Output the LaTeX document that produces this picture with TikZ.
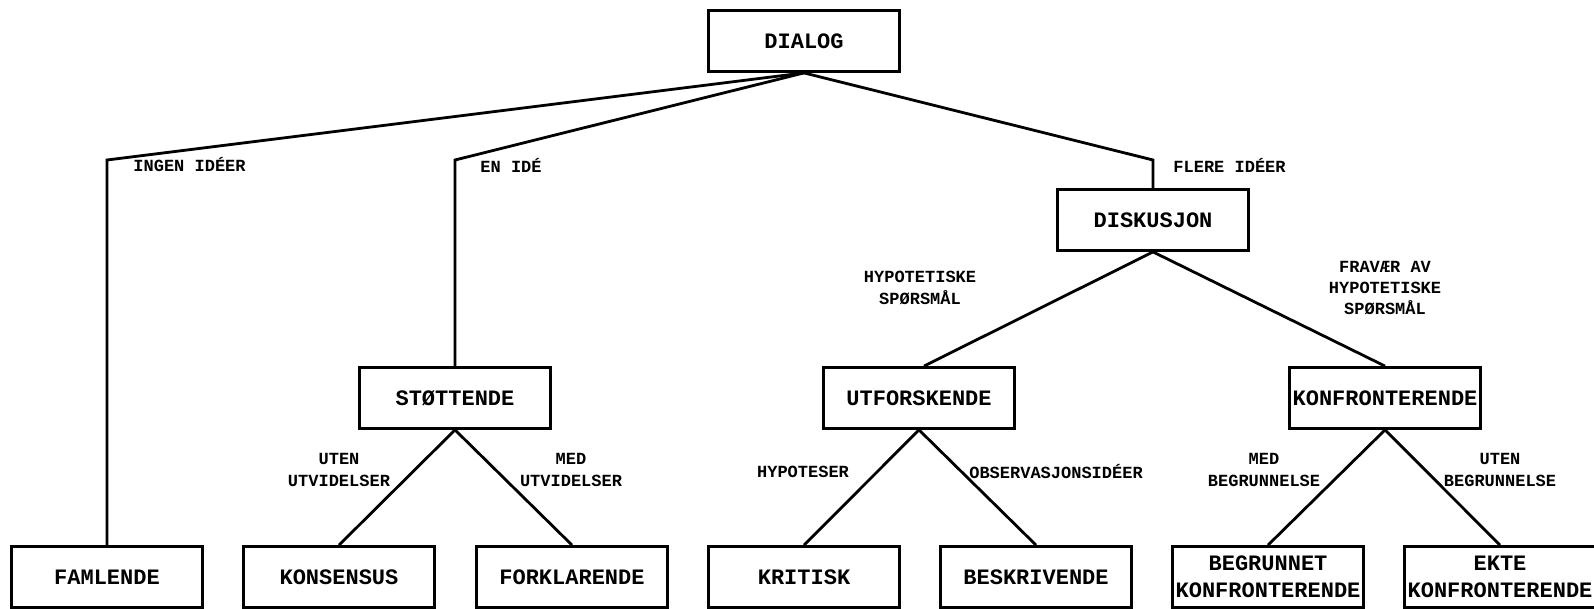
\documentclass[tikz,border=0pt]{standalone}
\usepackage{fontspec}
\setmonofont{Liberation Mono}
\usetikzlibrary{positioning}

\tikzset{
  box/.style={draw, line width=1.4pt, minimum width=95.5pt, minimum height=30.5pt,
    inner sep=0pt, align=center, font=\fontsize{11}{13.7}\selectfont\ttfamily\bfseries},
  lbl/.style={font=\fontsize{8.5}{10.7}\selectfont\ttfamily\bfseries, align=center, inner sep=0pt},
  link/.style={line width=1.4pt},
}

\begin{document}
\begin{tikzpicture}[x=0.5pt, y=-0.5pt]
    \useasboundingbox (0,0) rectangle (1594,609);

    % Top and middle level
    \node[box] (dialog) at (804,41) {DIALOG};
    \node[box] (diskusjon) at (1153,220) {DISKUSJON};
    \node[box] (stottende) at (455,398) {STØTTENDE};
    \node[box] (utforskende) at (919,398) {UTFORSKENDE};
    \node[box] (konfronterende) at (1385,398) {KONFRONTERENDE};

    % Bottom level
    \node[box] (famlende) at (107,577) {FAMLENDE};
    \node[box] (konsensus) at (339,577) {KONSENSUS};
    \node[box] (forklarende) at (572,577) {FORKLARENDE};
    \node[box] (kritisk) at (804,577) {KRITISK};
    \node[box] (beskrivende) at (1036,577) {BESKRIVENDE};
    \node[box] (begrunnet) at (1268,577) {BEGRUNNET\\KONFRONTERENDE};
    \node[box] (ekte) at (1500,577) {EKTE\\KONFRONTERENDE};

    % Bends under DIALOG
    \coordinate (kneA) at (107,160);
    \coordinate (kneB) at (455,160);
    \coordinate (kneC) at (1153,160);

    % Connectors
    \draw[link] (dialog.south) -- (kneA) -- (famlende.north);
    \draw[link] (dialog.south) -- (kneB) -- (stottende.north);
    \draw[link] (dialog.south) -- (kneC) -- (diskusjon.north);
    \draw[link] (diskusjon.south) -- ([xshift=2.5pt]utforskende.north);
    \draw[link] (diskusjon.south) -- (konfronterende.north);
    \draw[link] (stottende.south) -- (konsensus.north);
    \draw[link] (stottende.south) -- (forklarende.north);
    \draw[link] (utforskende.south) -- (kritisk.north);
    \draw[link] (utforskende.south) -- (beskrivende.north);
    \draw[link] (konfronterende.south) -- (begrunnet.north);
    \draw[link] (konfronterende.south) -- (ekte.north);

    % Labels
    \node[lbl, anchor=west] (lIngen) at (133,165) {INGEN IDÉER};
    \node[lbl, anchor=west] (lEn) at (480,165) {EN IDÉ};
    \node[lbl, anchor=west] (lFlere) at (1173,165) {FLERE IDÉER};
    \node[lbl] (lHyp) at (920,288) {HYPOTETISKE\\SPØRSMÅL};
    \node[lbl] (lFravaer) at (1385,288) {FRAVÆR AV\\HYPOTETISKE\\SPØRSMÅL};
    \node[lbl] (lUtenUtv) at (339,470) {UTEN\\UTVIDELSER};
    \node[lbl] (lMedUtv) at (571,470) {MED\\UTVIDELSER};
    \node[lbl] (lHypoteser) at (803,472) {HYPOTESER};
    \node[lbl] (lObs) at (1056,472) {OBSERVASJONSIDÉER};
    \node[lbl] (lMedBeg) at (1264,470) {MED\\BEGRUNNELSE};
    \node[lbl] (lUtenBeg) at (1500,470) {UTEN\\BEGRUNNELSE};
\end{tikzpicture}
\end{document}
